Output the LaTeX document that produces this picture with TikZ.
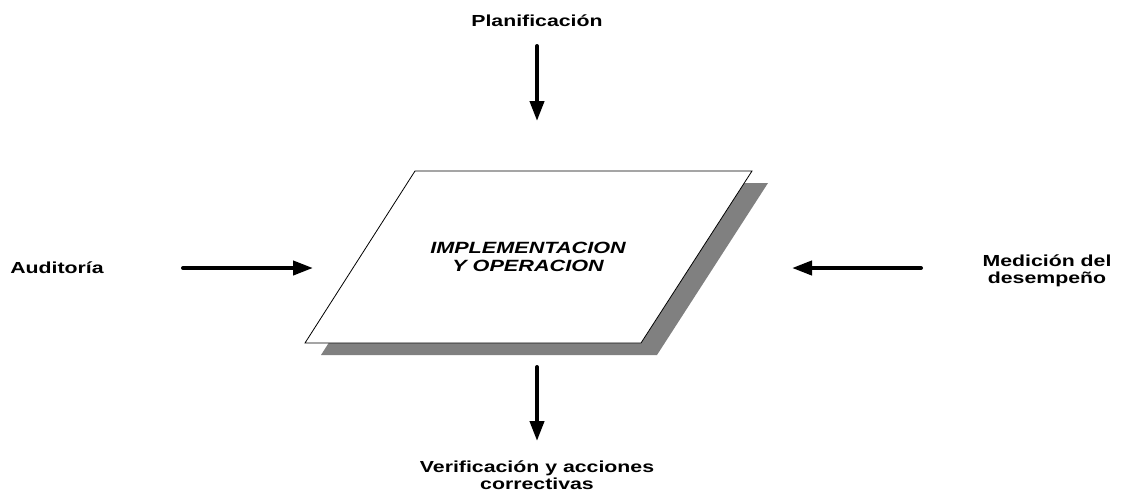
\documentclass[tikz,border=0pt]{standalone}
\usepackage{fontspec}
\setmainfont{Liberation Sans}
\newfontfamily\diagfont[FakeStretch=1.33]{Liberation Sans}
\usetikzlibrary{arrows.meta}
\definecolor{pgshade}{HTML}{808080}
\tikzset{
  >={Triangle[length=15pt,width=10.5pt]},
  font=\diagfont\bfseries\fontsize{12}{12.5}\selectfont,
  lbl/.style={align=center,inner sep=0pt},
  feed/.style={->,line width=3pt,line cap=round},
  plane/.style={draw=black,line width=0.6pt,fill=white,line join=miter},
  shade/.style={fill=pgshade,draw=none},
}

\begin{document}
\begin{tikzpicture}[x=0.75pt,y=-0.75pt]
  \useasboundingbox (0,0) rectangle (1124,493);

  % ---- central plane with its shadow ----
  \fill[shade] (431,183) -- (768,183) -- (657,355) -- (321,355) -- cycle;
  \draw[plane] (415,171) -- (752,171) -- (641,343) -- (305,343) -- cycle;
  \node[lbl,font=\diagfont\bfseries\itshape\fontsize{12.2}{13.5}\selectfont] (impl) at (528,257)
    {IMPLEMENTACION\\Y OPERACION};

  % ---- inputs and output ----
  \node[lbl] (plan) at (537,21) {Planificación};
  \node[lbl] (audit) at (57,268) {Auditoría};
  \node[lbl] (medic) at (1047,271) {Medición del\\desempeño};
  \node[lbl] (verif) at (537,475) {Verificación y acciones\\correctivas};

  \coordinate (plan-out)  at (537,46);
  \coordinate (impl-n)    at (537,121);
  \coordinate (audit-out) at (183,268);
  \coordinate (impl-w)    at (313,268);
  \coordinate (medic-out) at (921,268);
  \coordinate (impl-e)    at (792,268);
  \coordinate (impl-s)    at (537,367);
  \coordinate (verif-in)  at (537,441);

  \draw[feed] (plan-out) -- (impl-n);
  \draw[feed] (audit-out) -- (impl-w);
  \draw[feed] (medic-out) -- (impl-e);
  \draw[feed] (impl-s) -- (verif-in);
\end{tikzpicture}
\end{document}
